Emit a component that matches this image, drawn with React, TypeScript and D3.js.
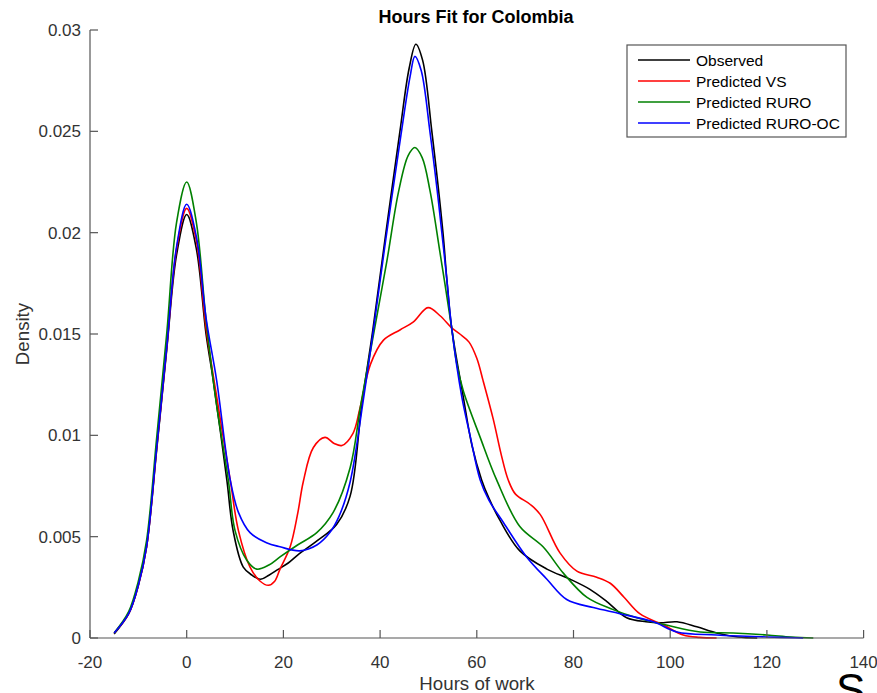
import React from "react";
import * as d3 from "d3";

type P = [number, number];

const observed: P[] = [
  [-15, 0.0002], [-12, 0.0012], [-10, 0.0026], [-8.3, 0.0045], [-6.2, 0.0093], [-4.1, 0.0143], [-2.1, 0.0189], [0, 0.0209],
  [2, 0.0192], [4, 0.015], [5.5, 0.0127], [8.3, 0.0078], [9.6, 0.0053], [11.7, 0.0035], [13.5, 0.0031], [15.2, 0.0029],
  [17, 0.0031], [19, 0.0034], [21, 0.0037], [23, 0.0041], [27, 0.0048], [31, 0.0056], [33.8, 0.0070], [36.2, 0.0115],
  [38.5, 0.0152], [41.2, 0.02], [44.1, 0.025], [46, 0.0281], [47.4, 0.0293], [48.8, 0.0285], [50.7, 0.025], [53, 0.02],
  [53.8, 0.0177], [54.8, 0.0153], [57.2, 0.0119], [59, 0.0095], [61, 0.0078], [62.5, 0.0069], [64.8, 0.0058], [68.9, 0.0043],
  [74.5, 0.0034], [79.3, 0.0029], [83.4, 0.0024], [86.9, 0.0018], [91, 0.001], [95, 0.0008], [98, 0.00075], [101.4, 0.0008],
  [105.5, 0.00055], [109.6, 0.00025], [114, 0.00005], [118, 0],
];

const predictedVS: P[] = [
  [-15, 0.00025], [-12, 0.0012], [-10, 0.0026], [-8.3, 0.0045], [-6.2, 0.0094], [-4.1, 0.0144], [-2.1, 0.0192], [0, 0.0212],
  [2, 0.0196], [4, 0.0153], [6, 0.0122], [9, 0.0078], [10.7, 0.0053], [13.1, 0.0035], [15.2, 0.0028], [16.9, 0.0026],
  [18.2, 0.0028], [19.3, 0.0034], [21.4, 0.0045], [23, 0.0062], [24.1, 0.0077], [26.2, 0.0094], [28.6, 0.0099], [30.5, 0.0096],
  [32.1, 0.0095], [34.4, 0.0101], [35.8, 0.0113], [38, 0.0135], [40.7, 0.0147], [44.1, 0.0152], [46.9, 0.0156], [49.9, 0.0163],
  [52.4, 0.0159], [54.8, 0.0153], [56.5, 0.015], [58.4, 0.0146], [60, 0.0138], [61.3, 0.0127], [63.4, 0.0108], [65.1, 0.009],
  [66.5, 0.0078], [68, 0.0071], [71, 0.0066], [73.1, 0.0061], [77.2, 0.0042], [80.7, 0.0033], [84.8, 0.003], [87.6, 0.0027],
  [90.5, 0.002], [93.7, 0.0012], [98.6, 0.00064], [102.7, 0.00015], [106, 0.00003], [109.6, 0],
];

const predictedRURO: P[] = [
  [-15, 0.00025], [-12, 0.0013], [-10, 0.0028], [-8.3, 0.0048], [-6.2, 0.0099], [-4.1, 0.0151], [-2.1, 0.0205], [0, 0.0225],
  [2, 0.0205], [4, 0.0157], [6, 0.0118], [8.6, 0.0078], [10, 0.0053], [12.4, 0.00385], [14.5, 0.0034], [17, 0.0036],
  [19.3, 0.004], [23, 0.0046], [26.9, 0.0052], [30.3, 0.0062], [33.8, 0.0084], [36, 0.0115], [38.5, 0.0148], [41.4, 0.0186],
  [43.8, 0.0220], [45.8, 0.0238], [47.2, 0.0242], [48.7, 0.0237], [50.3, 0.0221], [52.4, 0.019], [54.8, 0.0153], [55.8, 0.0136],
  [57.2, 0.0122], [60.7, 0.0099], [64.1, 0.0078], [68.9, 0.0055], [73.7, 0.0045], [77.9, 0.0032], [82.8, 0.002], [88.2, 0.0014],
  [93.1, 0.001], [99.2, 0.00064], [106.2, 0.0003], [113, 0.00025], [120, 0.00015], [125, 0.00005], [129.6, 0],
];

const predictedRUROOC: P[] = [
  [-15, 0.00025], [-12, 0.0012], [-10, 0.0026], [-8.3, 0.0045], [-6.2, 0.0094], [-4.1, 0.0144], [-2.1, 0.0193], [0, 0.0214],
  [2, 0.0198], [4, 0.0158], [6.2, 0.0127], [9, 0.0078], [10.7, 0.0062], [13.1, 0.0052], [16.5, 0.0047], [19.3, 0.0045],
  [23.4, 0.0043], [27, 0.0046], [29.6, 0.0052], [31.5, 0.006], [33.8, 0.0077], [36.5, 0.0117], [38.5, 0.015], [41.2, 0.0197],
  [44.3, 0.0248], [46.2, 0.0277], [47.2, 0.0287], [48.5, 0.028], [50.3, 0.025], [51.8, 0.0221], [53, 0.0195], [53.8, 0.0177],
  [54.8, 0.0153], [56.9, 0.0119], [58.6, 0.01], [60.7, 0.0078], [62.5, 0.0068], [65.5, 0.0057], [70.3, 0.004], [74.5, 0.0029],
  [78.6, 0.0019], [84.1, 0.0015], [89.6, 0.0012], [96.5, 0.0008], [101.4, 0.0003], [109.6, 0.00015], [120, 0.00005], [127.5, 0],
];

const seriesNames = ["Observed", "Predicted VS", "Predicted RURO", "Predicted RURO-OC"];
const seriesColors = ["#000000", "#ff0000", "#008000", "#0000ff"];
const seriesData = [observed, predictedVS, predictedRURO, predictedRUROOC];

const xTicks = [-20, 0, 20, 40, 60, 80, 100, 120, 140];
const yTicks = [0, 0.005, 0.01, 0.015, 0.02, 0.025, 0.03];
const yTickLabels = ["0", "0.005", "0.01", "0.015", "0.02", "0.025", "0.03"];

const W = 877;
const H = 693;
const FONT = "'Liberation Sans', Arial, Helvetica, sans-serif";

export default function App() {
  const x = d3.scaleLinear().domain([-20, 140]).range([90, 863.6]);
  const y = d3.scaleLinear().domain([0, 0.03]).range([638, 30]);
  const line = d3
    .line<P>()
    .x((d) => x(d[0]))
    .y((d) => y(d[1]))
    .curve(d3.curveCatmullRom.alpha(0.5));

  const axisColor = "#555555";
  const textColor = "#333333";
  const legX = 627;
  const legY = 45;

  return (
    <svg
      width={W}
      height={H}
      style={{ position: "absolute", left: 0, top: 0, background: "#fff" }}
      fontFamily={FONT}
    >
      <rect x={0} y={0} width={W} height={H} fill="#fff" />
      {seriesData.map((d, i) => (
        <path key={i} d={line(d) || ""} fill="none" stroke={seriesColors[i]} strokeWidth={1.6} />
      ))}
      <line x1={x(-20)} x2={x(140)} y1={y(0)} y2={y(0)} stroke={axisColor} strokeWidth={1.2} />
      <line x1={x(-20)} x2={x(-20)} y1={y(0)} y2={y(0.03)} stroke={axisColor} strokeWidth={1.2} />
      {xTicks.map((t) => (
        <g key={"x" + t}>
          <line x1={x(t)} x2={x(t)} y1={y(0)} y2={y(0) - 8} stroke={axisColor} strokeWidth={1.2} />
          <text x={x(t)} y={668} textAnchor="middle" fontSize={17} fill={textColor}>
            {t}
          </text>
        </g>
      ))}
      {yTicks.map((t, i) => (
        <g key={"y" + t}>
          <line x1={x(-20)} x2={x(-20) + 8} y1={y(t)} y2={y(t)} stroke={axisColor} strokeWidth={1.2} />
          <text x={81} y={y(t) + 6} textAnchor="end" fontSize={17} fill={textColor}>
            {yTickLabels[i]}
          </text>
        </g>
      ))}
      <text x={476} y={23} textAnchor="middle" fontSize={18} fontWeight="bold" fill="#000">
        Hours Fit for Colombia
      </text>
      <text x={477} y={690} textAnchor="middle" fontSize={18.7} fill={textColor}>
        Hours of work
      </text>
      <text
        transform={`translate(29,334) rotate(-90)`}
        textAnchor="middle"
        fontSize={18.7}
        fill={textColor}
      >
        Density
      </text>
      <rect x={legX} y={legY} width={219} height={92} fill="#fff" stroke={axisColor} strokeWidth={1.2} />
      {seriesNames.map((n, i) => (
        <g key={n}>
          <line
            x1={638}
            x2={690}
            y1={60 + i * 21}
            y2={60 + i * 21}
            stroke={seriesColors[i]}
            strokeWidth={1.6}
          />
          <text x={696} y={60 + i * 21 + 5.5} fontSize={15.5} fill="#000">
            {n}
          </text>
        </g>
      ))}
      <text x={836} y={705} fontSize={44} fill="#000">
        S
      </text>
    </svg>
  );
}
